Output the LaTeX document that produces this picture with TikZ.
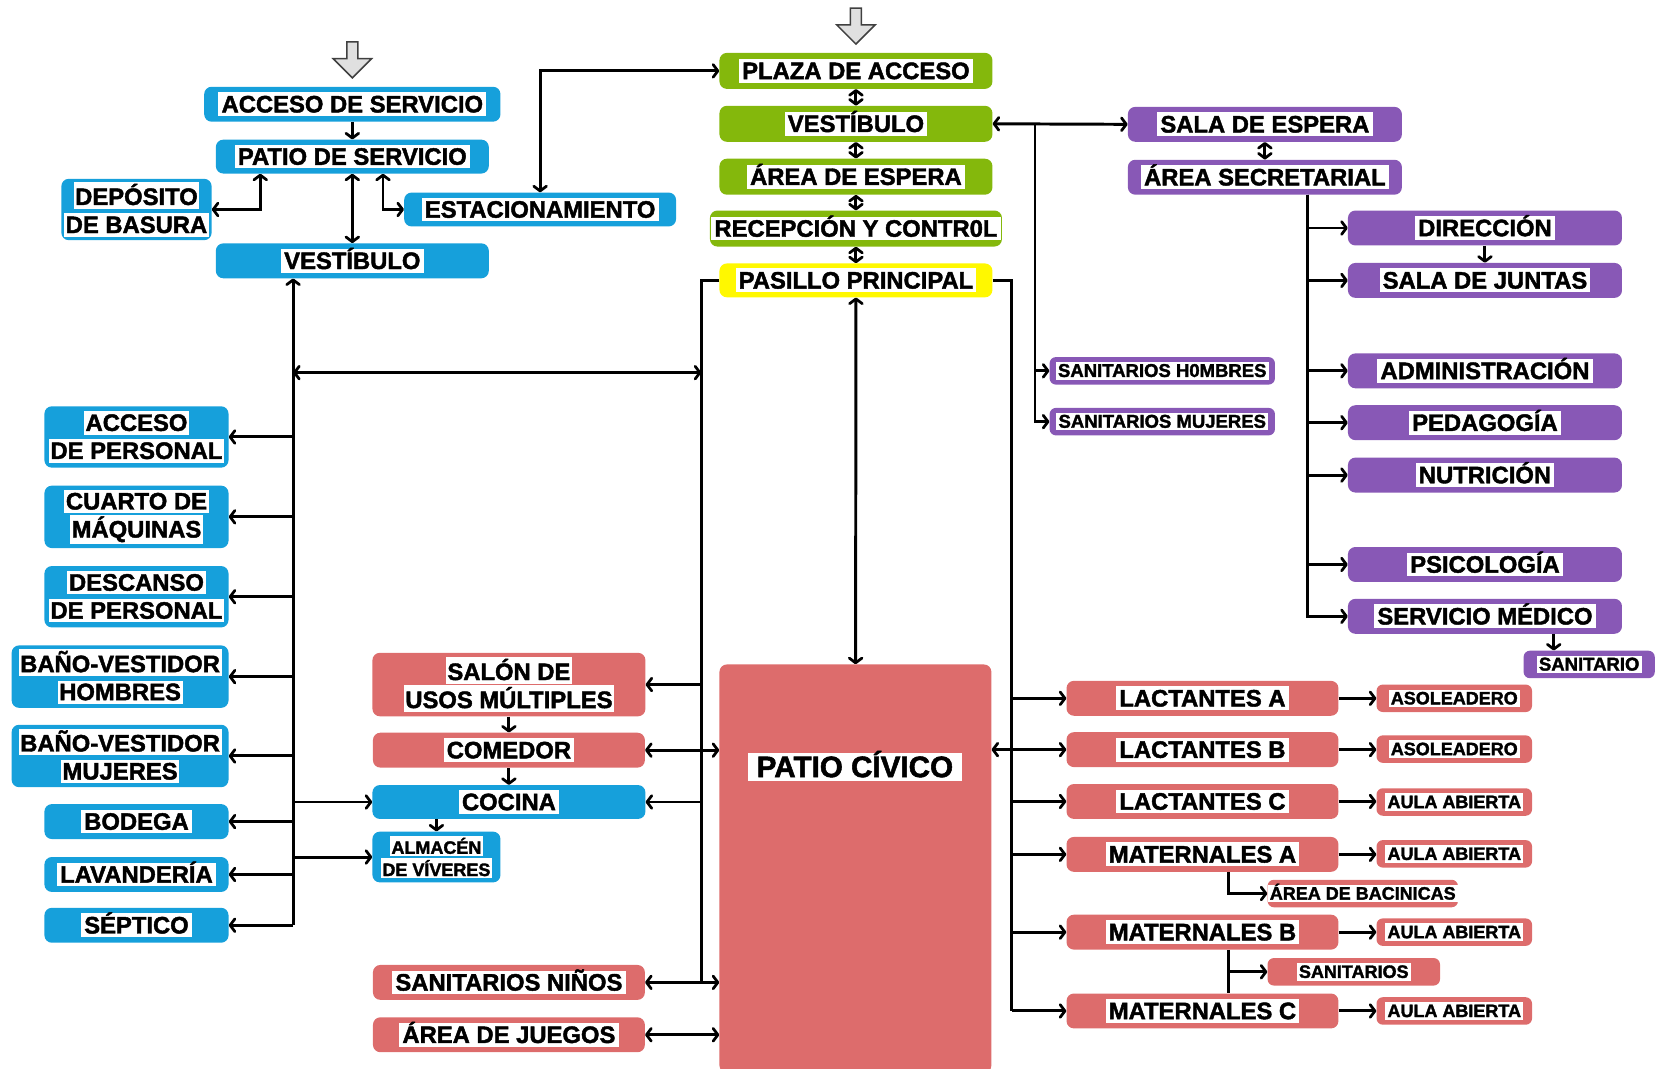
\documentclass[tikz,border=0pt]{standalone}
\usepackage{fontspec}
\setmainfont{Liberation Sans}[BoldFeatures={FakeBold=1.8}]
\usetikzlibrary{arrows.meta,shapes.arrows}
\definecolor{azul}{RGB}{22,160,219}
\definecolor{verde}{RGB}{132,184,12}
\definecolor{amarillo}{RGB}{255,248,0}
\definecolor{morado}{RGB}{136,88,182}
\definecolor{rojo}{RGB}{221,108,108}
\setlength{\fboxsep}{1.5pt}
\newcommand\wl[1]{\colorbox{white}{\rule[-2pt]{0pt}{19pt}#1}}

\tikzset{
  room/.style={rounded corners=7pt,inner sep=0pt},
  tag/.style={inner sep=0pt,align=center,
    font=\bfseries\fontsize{22.5}{26.5}\selectfont},
  onetag/.style={tag,fill=white,inner xsep=3pt,inner ysep=1.5pt,
    text height=17.5pt,text depth=2pt},
  smalltag/.style={onetag,inner xsep=2pt,font=\bfseries\fontsize{17}{19}\selectfont,
    text height=12.5pt,text depth=1pt},
  link/.style={line width=2.8pt},
  entry/.style={single arrow,draw=black!75,fill=black!12,line width=1.4pt,
    inner xsep=0pt,inner ysep=4.5pt,single arrow head extend=13pt,
    minimum height=34pt,rotate=-90}
}

\begin{document}
\begin{tikzpicture}[x=1pt,y=1pt,
  >={Straight Barb[length=4.5pt,width=12pt,line width=2.6pt,round]}]
\useasboundingbox (0,0) rectangle (1568,-1010);

% entradas
\node[entry] (inServ) at (333,-54) {};
\node[entry] (inMain) at (809,-22) {};

% zona de servicio (azul)
\foreach \id/\cx/\cy/\w/\h/\txt in {
  accserv/333/98.5/280/33/ACCESO DE SERVICIO,
  patserv/333/148/258/32/PATIO DE SERVICIO,
  estac/510.5/198/257/32/ESTACIONAMIENTO,
  vestA/333/246.5/258/33/VESTÍBULO,
  bodega/129/776.5/174/33/BODEGA,
  lavand/129/826.5/174/33/LAVANDERÍA,
  septico/129/874.5/174/33/SÉPTICO,
  cocina/481/758/258/32/COCINA}{
  \node[room,fill=azul,minimum width=\w pt,minimum height=\h pt] (\id) at (\cx,-\cy) {};
  \node[onetag] (tag-\id) at (\id) {\txt};
}
\foreach \id/\cx/\cy/\w/\h/\txt in {
  deposito/129/198/142/58/{\wl{DEPÓSITO}\\\wl{DE BASURA}},
  accper/129/413/174/58/{\wl{ACCESO}\\\wl{DE PERSONAL}},
  cuarto/129/488.5/174/59/{\wl{CUARTO DE}\\\wl{MÁQUINAS}},
  descanso/129/564/174/58/{\wl{DESCANSO}\\\wl{DE PERSONAL}},
  banoh/113.5/639.5/205/59/{\wl{BAÑO-VESTIDOR}\\\wl{HOMBRES}},
  banom/113.5/714.5/205/59/{\wl{BAÑO-VESTIDOR}\\\wl{MUJERES}}}{
  \node[room,fill=azul,minimum width=\w pt,minimum height=\h pt] (\id) at (\cx,-\cy) {};
  \node[tag] (tag-\id) at (\id) {\txt};
}
\node[room,fill=azul,minimum width=121pt,minimum height=48pt] (almacen) at (412.5,-810) {};
\node[tag,font=\bfseries\fontsize{17}{21}\selectfont] (tag-almacen) at (almacen)
  {\colorbox{white}{ALMACÉN}\\\colorbox{white}{DE VÍVERES}};

% acceso principal (verde)
\foreach \id/\cy/\w/\txt in {
  plaza/67/258/PLAZA DE ACCESO,
  vestB/117/258/VESTÍBULO,
  espera/167/258/ÁREA DE ESPERA,
  recep/216/276/RECEPCIÓN Y CONTR0L}{
  \node[room,fill=verde,minimum width=\w pt,minimum height=34pt] (\id) at (809,-\cy) {};
  \node[onetag] (tag-\id) at (\id) {\txt};
}
\node[room,fill=amarillo,minimum width=258pt,minimum height=32pt] (pasillo) at (809,-265) {};
\node[onetag] (tag-pasillo) at (pasillo) {PASILLO PRINCIPAL};

% gobierno (morado)
\foreach \id/\cx/\cy/\txt in {
  salaesp/1195.5/117.5/SALA DE ESPERA,
  secret/1195.5/167.5/ÁREA SECRETARIAL,
  direc/1403.5/215.5/DIRECCIÓN,
  juntas/1403.5/265/SALA DE JUNTAS,
  admin/1403.5/350.5/ADMINISTRACIÓN,
  pedag/1403.5/399.5/PEDAGOGÍA,
  nutri/1403.5/449/NUTRICIÓN,
  psico/1403.5/533.5/PSICOLOGÍA,
  medico/1403.5/582.5/SERVICIO MÉDICO}{
  \node[room,fill=morado,minimum width=259pt,minimum height=33pt] (\id) at (\cx,-\cy) {};
  \node[onetag] (tag-\id) at (\id) {\txt};
}
\foreach \id/\cx/\cy/\w/\txt in {
  sanit/1502/628/124/SANITARIO,
  sanh/1098.5/350.5/213/SANITARIOS H0MBRES,
  sanm/1098.5/398.5/213/SANITARIOS MUJERES}{
  \node[room,rounded corners=6pt,fill=morado,minimum width=\w pt,minimum height=26pt] (\id) at (\cx,-\cy) {};
  \node[smalltag,font=\bfseries\fontsize{17.5}{19}\selectfont] (tag-\id) at (\id) {\txt};
}

% aulas y servicios (rojo)
\foreach \id/\cx/\cy/\txt in {
  comedor/481/709/COMEDOR,
  sanninos/481/928.5/SANITARIOS NIÑOS,
  juegos/481/978/ÁREA DE JUEGOS,
  lacA/1136.5/660/LACTANTES A,
  lacB/1136.5/708.5/LACTANTES B,
  lacC/1136.5/757.5/LACTANTES C,
  matA/1136.5/807.5/MATERNALES A,
  matB/1136.5/881/MATERNALES B,
  matC/1136.5/955.5/MATERNALES C}{
  \node[room,fill=rojo,minimum width=257pt,minimum height=33pt] (\id) at (\cx,-\cy) {};
  \node[onetag] (tag-\id) at (\id) {\txt};
}
\foreach \id/\cx/\cy/\w/\txt in {
  asoA/1374.5/660/147/ASOLEADERO,
  asoB/1374.5/708/147/ASOLEADERO,
  aulaC/1374.5/758/147/AULA ABIERTA,
  aulaMA/1374.5/807/147/AULA ABIERTA,
  aulaMB/1374.5/881/147/AULA ABIERTA,
  aulaMC/1374.5/955.5/147/AULA ABIERTA,
  bacin/1288/844.5/180/ÁREA DE BACINICAS,
  sanitarios/1279.5/918.5/163/SANITARIOS}{
  \node[room,rounded corners=6pt,fill=rojo,minimum width=\w pt,minimum height=26pt] (\id) at (\cx,-\cy) {};
  \node[smalltag] (tag-\id) at (\id) {\txt};
}
\node[room,fill=rojo,minimum width=258pt,minimum height=60pt] (salon) at (481,-647) {};
\node[tag] (tag-salon) at (salon) {\wl{SALÓN DE}\\\wl{USOS MÚLTIPLES}};
\node[room,fill=rojo,minimum width=257pt,minimum height=386pt] (patio) at (808.5,-821) {};
\node[onetag,inner xsep=8pt,font=\bfseries\fontsize{28}{32}\selectfont,
  text height=21pt,text depth=2pt] (tag-patio) at (808,-725) {PATIO CÍVICO};

% conexiones servicio
\draw[link,->] (accserv) -- (patserv);
\draw[link,<->] ([xshift=-87pt]patserv.south) |- (deposito.east);
\draw[link,<->] (patserv) -- (vestA);
\draw[link,<->] ([xshift=29pt]patserv.south) |- (estac.west);
\draw[link,<->] (estac.north) |- (plaza.west);

\coordinate (busB) at ([xshift=-56pt]vestA.south);
\draw[link,->] (busB |- septico.east) -- (busB);
\foreach \r in {accper,cuarto,descanso,banoh,banom,bodega,lavand,septico}
  \draw[link,->] (busB |- \r.east) -- (\r.east);
\draw[link,->] (busB |- cocina.west) -- (cocina.west);
\draw[link,->] (busB |- almacen.west) -- (almacen.west);

% conexiones acceso
\foreach \a/\b in {plaza/vestB,vestB/espera,espera/recep,recep/pasillo}
  \draw[link,<->] (\a) -- (\b);
\draw[link,<->] (vestB.east) -- (salaesp.west);
\coordinate (busV) at ([xshift=40pt]vestB.east);
\draw[link,->] (busV) |- (sanh.west);
\draw[link,->] (busV) |- (sanm.west);

% conexiones gobierno
\draw[link,<->] (salaesp) -- (secret);
\coordinate (busS) at ([xshift=40pt]secret.south);
\foreach \r in {direc,juntas,admin,pedag,nutri,psico,medico}
  \draw[link,->] (busS) |- (\r.west);
\draw[link,->] (direc) -- (juntas);
\coordinate (busM) at ([xshift=65pt]medico.south);
\draw[link,->] (busM) -- (busM |- sanit.north);

% pasillo
\draw[link,<->] (pasillo) -- (patio);
\coordinate (busL) at ([xshift=-17pt]pasillo.west);
\draw[link] (pasillo.west) -- (busL) -- (busL |- sanninos.east);
\coordinate (linkB) at ([yshift=-89pt]busB);
\draw[link,<->] (linkB) -- (linkB -| busL);
\draw[link,->] (busL |- salon.east) -- (salon.east);
\draw[link,->] (busL |- cocina.east) -- (cocina.east);
\foreach \r in {comedor,sanninos,juegos}
  \draw[link,<->] (\r.east) -- (\r.east -| patio.west);
\draw[link,->] (salon) -- (comedor);
\draw[link,->] (comedor) -- (cocina);
\draw[link,->] (almacen.north |- cocina.south) -- (almacen.north);

% aulas
\coordinate (busR) at ([xshift=18pt]pasillo.east);
\draw[link] (pasillo.east) -- (busR) -- (busR |- matC.west);
\foreach \r in {lacA,lacC,matA,matB,matC}
  \draw[link,->] (busR |- \r.west) -- (\r.west);
\draw[link,<->] (patio.east |- lacB.west) -- (lacB.west);
\foreach \a/\b in {lacA/asoA,lacB/asoB,lacC/aulaC,matA/aulaMA,matB/aulaMB,matC/aulaMC}
  \draw[link,->] (\a.east) -- (\a.east -| \b.west);
\coordinate (busMA) at ([xshift=25pt]matA.south);
\draw[link,->] (busMA) |- (bacin.west);
\coordinate (busMB) at ([xshift=25pt]matB.south);
\draw[link] (busMB) -- (busMB |- matC.north);
\draw[link,->] (busMB |- sanitarios.west) -- (sanitarios.west);
\end{tikzpicture}
\end{document}
